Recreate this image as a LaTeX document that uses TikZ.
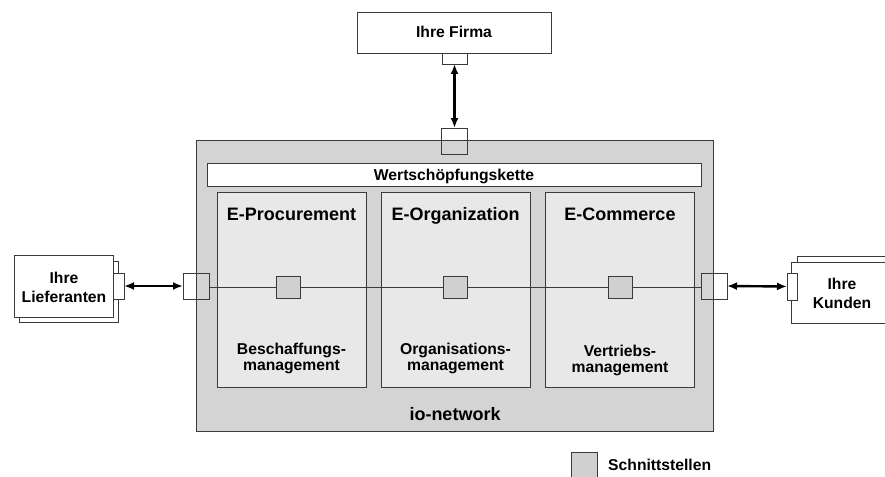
\documentclass[tikz,border=0pt]{standalone}
\usepackage{fontspec}
\setmainfont{Liberation Sans}
\usetikzlibrary{arrows.meta}
\definecolor{bord}{HTML}{3A3A3A}
\definecolor{netgray}{HTML}{D4D4D4}
\definecolor{modgray}{HTML}{E8E8E8}
\definecolor{portgray}{HTML}{D0D0D0}
\tikzset{
  base/.style={draw=bord, line width=0.9pt, inner sep=0pt, outer sep=0pt, rectangle},
  wbox/.style={base, fill=white},
  modbox/.style={base, fill=modgray, minimum width=149, minimum height=195},
  port/.style={base, minimum width=26, minimum height=26},
  mport/.style={base, fill=portgray, minimum width=24, minimum height=22},
  txt/.style={font=\bfseries\fontsize{15.7}{18}\selectfont, inner sep=0pt, anchor=base},
  ttl/.style={font=\bfseries\fontsize{18}{20}\selectfont, inner sep=0pt, anchor=base},
  dbl/.style={line width=2.4pt, {Latex[length=10pt,width=8pt]}-{Latex[length=10pt,width=8pt]}},
  wire/.style={draw=bord, line width=0.8pt}
}
\begin{document}
\begin{tikzpicture}[x=1pt,y=-1pt]
\clip (0,0) rectangle (885,476);
\fill[white] (0,0) rectangle (885,476);
% Ihre Firma
\node[wbox, minimum width=194, minimum height=41] (firma) at (454,32.5) {};
\node[txt] at (454,38) {Ihre Firma};
\node[wbox, minimum width=25, minimum height=11] (fport) at (454.5,58.5) {};
% io-network
\node[base, fill=netgray, minimum width=517, minimum height=291] (net) at (454.5,285.5) {};
\node[ttl] at (455,420) {io-network};
\node[wbox, minimum width=494, minimum height=23] (wsk) at (454,174.5) {};
\node[txt] at (454,180) {Wertschöpfungskette};
% modules
\node[modbox] (m1) at (291.5,289.5) {};
\node[modbox] (m2) at (455.5,289.5) {};
\node[modbox] (m3) at (620,289.5) {};
\node[ttl] at (291.5,220) {E-Procurement};
\node[ttl] at (455.5,220) {E-Organization};
\node[ttl] at (620,220) {E-Commerce};
\node[txt] at (291.5,354) {Beschaffungs-};
\node[txt] at (291.5,370) {management};
\node[txt] at (455.5,354) {Organisations-};
\node[txt] at (455.5,370) {management};
\node[txt] at (620,356) {Vertriebs-};
\node[txt] at (620,372) {management};
% top port
\node[port] (tport) at (454.5,141) {};
\draw[dbl] (fport.south) -- (tport.north);
% side ports
\node[port] (lport) at (196,286) {};
\node[port] (rport) at (714,286) {};
\node[mport] (p1) at (288,287) {};
\node[mport] (p2) at (455,287) {};
\node[mport] (p3) at (620,287) {};
\draw[wire] (lport.east |- p1.west) -- (p1.west);
\draw[wire] (p1.east) -- (p2.west);
\draw[wire] (p2.east) -- (p3.west);
\draw[wire] (p3.east) -- (rport.west |- p3.east);
% Lieferanten
\draw[base, fill=white] (19,261) rectangle (118,322);
\node[wbox, minimum width=99, minimum height=62] (lief) at (63.5,286) {};
\node[txt] at (64,283) {Ihre};
\node[txt] at (64,302) {Lieferanten};
\node[wbox, minimum width=11, minimum height=26] (lcon) at (118.5,286) {};
\draw[dbl] (lcon.east) -- (lport.west);
% Kunden
\draw[base, fill=white] (797,256) rectangle (900,317);
\node[wbox, minimum width=109, minimum height=61] (kund) at (845.5,292.5) {};
\node[txt] at (842,289) {Ihre};
\node[txt] at (842,308) {Kunden};
\node[wbox, minimum width=10, minimum height=27] (kcon) at (792,286.5) {};
\draw[dbl] (rport.east) -- (kcon.west);
% legend
\node[base, fill=portgray, minimum width=26, minimum height=26] (leg) at (584,465) {};
\node[txt, anchor=base west] at (608,470) {Schnittstellen};
\end{tikzpicture}
\end{document}
